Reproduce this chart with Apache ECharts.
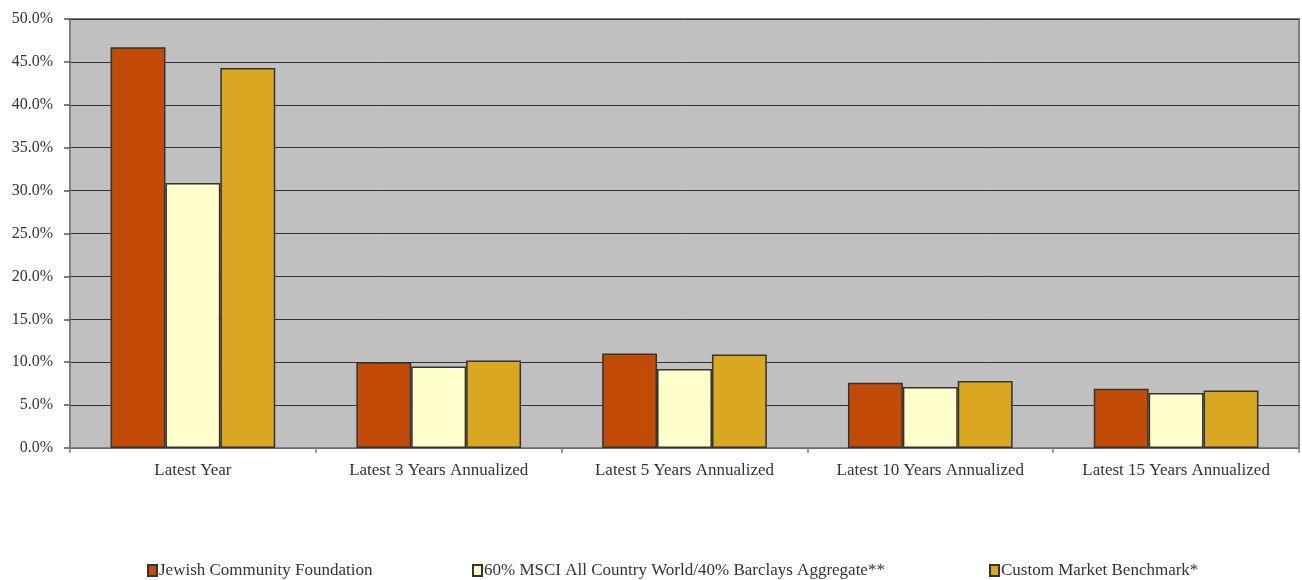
<!DOCTYPE html>
<html>
<head>
<meta charset="utf-8">
<script src="https://cdn.jsdelivr.net/npm/echarts@6/dist/echarts.min.js"></script>
<style>
  html, body { margin: 0; padding: 0; background: #ffffff; }
  #chart { width: 1302px; height: 580px; }
</style>
</head>
<body>
<div id="chart"></div>
<script>
// Return periods on the x axis
const categories = [
  'Latest Year',
  'Latest 3 Years Annualized',
  'Latest 5 Years Annualized',
  'Latest 10 Years Annualized',
  'Latest 15 Years Annualized'
];

// Series names
const seriesNames = [
  'Jewish Community Foundation',
  '60% MSCI All Country World/40% Barclays Aggregate**',
  'Custom Market Benchmark*'
];

// Returns in percent
const jcfValues = [46.7, 10.0, 11.0, 7.6, 6.9];
const msciValues = [30.9, 9.5, 9.2, 7.1, 6.4];
const customValues = [44.3, 10.2, 10.9, 7.8, 6.7];

const seriesColors = ['#C24B08', '#FFFFCC', '#DAA820'];
const seriesValues = [jcfValues, msciValues, customValues];

const fontFamily = '"Liberation Serif", "Times New Roman", serif';
const textColor = '#333333';

const chart = echarts.init(document.getElementById('chart'), null, { renderer: 'canvas' });

// One legend block per series, placed along the bottom
const legendLefts = [147, 472, 989];

chart.setOption({
  animation: false,
  backgroundColor: '#ffffff',
  textStyle: { fontFamily: fontFamily, color: textColor },
  grid: {
    left: 70,
    right: 3,
    top: 19,
    bottom: 132,
    show: true,
    backgroundColor: '#C0C0C0',
    borderColor: '#808080',
    borderWidth: 2
  },
  legend: seriesNames.map((name, i) => ({
    data: [name],
    left: legendLefts[i],
    top: 562,
    padding: 0,
    icon: 'rect',
    itemWidth: 9,
    itemHeight: 11,
    itemGap: 0,
    textStyle: { fontFamily: fontFamily, fontSize: 17, color: textColor, padding: [0, 0, 0, -3] },
    selectedMode: false
  })),
  xAxis: {
    type: 'category',
    data: categories,
    axisLine: { show: true, lineStyle: { color: '#808080', width: 1.5 } },
    axisTick: { show: true, length: 5, alignWithLabel: false, lineStyle: { color: '#808080', width: 1.5 } },
    axisLabel: { fontFamily: fontFamily, fontSize: 17, color: textColor, margin: 14 },
    splitLine: { show: false }
  },
  yAxis: {
    type: 'value',
    min: 0,
    max: 50,
    interval: 5,
    axisLine: { show: true, lineStyle: { color: '#808080', width: 1.5 } },
    axisTick: { show: true, length: 6, lineStyle: { color: '#555555', width: 1.5 } },
    axisLabel: {
      fontFamily: fontFamily,
      fontSize: 16,
      color: textColor,
      margin: 17,
      formatter: v => v.toFixed(1) + '%'
    },
    splitLine: { show: true, lineStyle: { color: '#333333', width: 1 } }
  },
  series: seriesNames.map((name, i) => ({
    name: name,
    type: 'bar',
    data: seriesValues[i],
    barGap: '0%',
    barCategoryGap: '33%',
    itemStyle: {
      color: seriesColors[i],
      borderColor: '#333333',
      borderWidth: 1.5
    }
  }))
});
</script>
</body>
</html>
